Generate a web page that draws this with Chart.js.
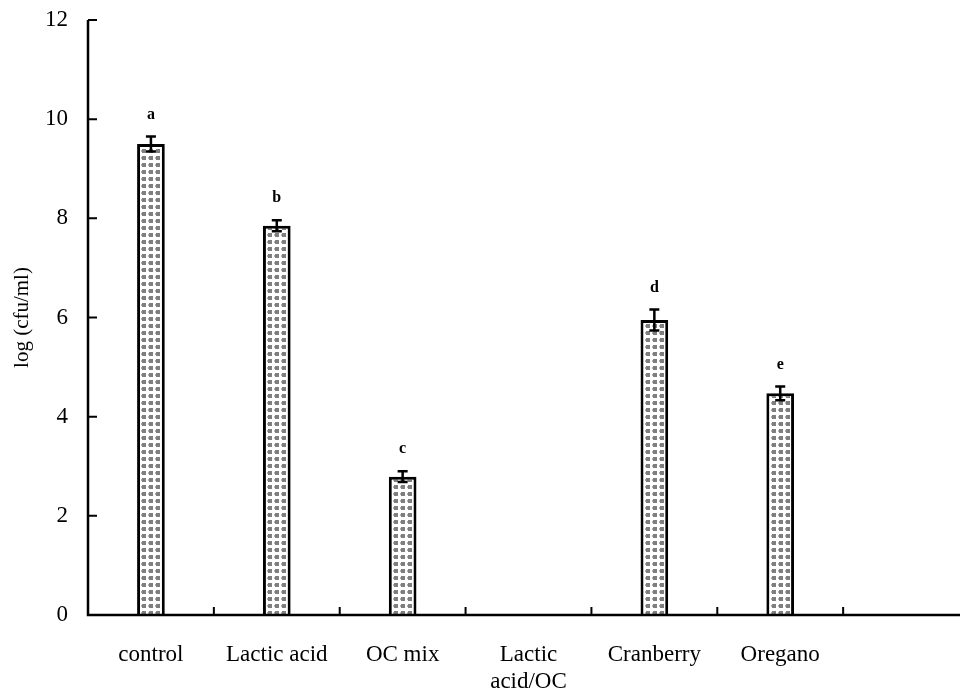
<!DOCTYPE html>
<html>
<head>
<meta charset="utf-8">
<script src="https://cdn.jsdelivr.net/npm/chart.js@4.4.1/dist/chart.umd.min.js"></script>
<style>
  html, body { margin: 0; padding: 0; background: #fff; overflow: hidden; }
  #wrap { position: relative; width: 980px; height: 693px; }
</style>
</head>
<body>
<div id="wrap"><canvas id="chart"></canvas></div>
<script>
// Data
const categories = ['control', 'Lactic acid', 'OC mix', ['Lactic', 'acid/OC'], 'Cranberry', 'Oregano', ''];
const meanValues = [9.5, 7.85, 2.79, 0, 5.95, 4.47, null];
const errorValues = [0.15, 0.11, 0.11, null, 0.21, 0.14, null];
const groupLetters = ['a', 'b', 'c', '', 'd', 'e', ''];
const yTicks = [0, 2, 4, 6, 8, 10, 12];

const serif = "'Liberation Serif', 'DejaVu Serif', serif";

// Dotted fill for the bars
function makeDotPattern() {
    const c = document.createElement('canvas');
    c.width = 7;
    c.height = 7;
    const g = c.getContext('2d');
    g.fillStyle = '#ffffff';
    g.fillRect(0, 0, 7, 7);
    g.fillStyle = '#7f7f7f';
    g.fillRect(2, 2, 4, 4);
    g.fillStyle = '#b0b0b0';
    g.fillRect(1, 3, 1, 2);
    return document.getElementById('chart').getContext('2d').createPattern(c, 'repeat');
}

// Error bars + significance letters
const errorBarPlugin = {
    id: 'errorBars',
    afterDatasetsDraw(chart) {
        const ctx = chart.ctx;
        const meta = chart.getDatasetMeta(0);
        const y = chart.scales.y;
        ctx.save();
        ctx.strokeStyle = '#000';
        ctx.lineWidth = 2.5;
        meta.data.forEach((bar, i) => {
            const v = meanValues[i];
            const e = errorValues[i];
            if (v === null || e === null) return;
            const x = bar.x;
            const top = y.getPixelForValue(v + e);
            const bottom = y.getPixelForValue(v - e);
            ctx.beginPath();
            ctx.moveTo(x, top);
            ctx.lineTo(x, bottom);
            ctx.moveTo(x - 5, top);
            ctx.lineTo(x + 5, top);
            ctx.moveTo(x - 5, bottom);
            ctx.lineTo(x + 5, bottom);
            ctx.stroke();
            if (groupLetters[i]) {
                ctx.fillStyle = '#000';
                ctx.font = 'bold 16px ' + serif;
                ctx.textAlign = 'center';
                ctx.textBaseline = 'middle';
                ctx.fillText(groupLetters[i], x, top - 22);
            }
        });
        ctx.restore();
    }
};

// Axis lines and inward tick marks
const axisPlugin = {
    id: 'axisTicks',
    afterDraw(chart) {
        const ctx = chart.ctx;
        const area = chart.chartArea;
        const x = chart.scales.x;
        const y = chart.scales.y;
        ctx.save();
        ctx.strokeStyle = '#000';
        ctx.lineWidth = 2.5;
        ctx.beginPath();
        ctx.moveTo(area.left, area.top);
        ctx.lineTo(area.left, area.bottom);
        ctx.lineTo(area.right, area.bottom);
        ctx.stroke();
        ctx.lineWidth = 2;
        ctx.beginPath();
        yTicks.forEach(t => {
            if (t === 0) return;
            const py = y.getPixelForValue(t);
            ctx.moveTo(area.left, py);
            ctx.lineTo(area.left + 9, py);
        });
        for (let i = 1; i < categories.length; i++) {
            const px = (x.getPixelForValue(i - 1) + x.getPixelForValue(i)) / 2;
            ctx.moveTo(px, area.bottom);
            ctx.lineTo(px, area.bottom - 8);
        }
        ctx.stroke();
        ctx.restore();
    }
};

const ctx = document.getElementById('chart').getContext('2d');
new Chart(ctx, {
    type: 'bar',
    data: {
        labels: categories,
        datasets: [{
            data: meanValues,
            backgroundColor: makeDotPattern(),
            borderColor: '#000',
            borderWidth: 3,
            borderSkipped: 'start',
            categoryPercentage: 1,
            barPercentage: 0.22
        }]
    },
    options: {
        responsive: true,
        maintainAspectRatio: false,
        animation: false,
        layout: { padding: { top: 20, right: 11, left: 0, bottom: 0 } },
        plugins: {
            legend: { display: false },
            tooltip: { enabled: false }
        },
        scales: {
            x: {
                grid: { display: false, drawTicks: false },
                border: { display: false },
                ticks: {
                    color: '#000',
                    font: { family: serif, size: 23 },
                    padding: 26,
                    maxRotation: 0,
                    autoSkip: false
                },
                afterFit(scale) {
                    scale.height = 78;
                    scale.paddingLeft = 0;
                    scale.paddingRight = 0;
                }
            },
            y: {
                min: 0,
                max: 12,
                grid: { display: false, drawTicks: false },
                border: { display: false },
                afterBuildTicks(scale) {
                    scale.ticks = yTicks.map(v => ({ value: v }));
                },
                ticks: {
                    color: '#000',
                    font: { family: serif, size: 23 },
                    padding: 20
                },
                title: {
                    display: true,
                    text: 'log (cfu/ml)',
                    color: '#000',
                    font: { family: serif, size: 21 },
                    padding: { top: 10, bottom: 0 }
                },
                afterFit(scale) {
                    scale.width = 88;
                    scale.paddingTop = 0;
                    scale.paddingBottom = 0;
                }
            }
        }
    },
    plugins: [errorBarPlugin, axisPlugin]
});
</script>
</body>
</html>
